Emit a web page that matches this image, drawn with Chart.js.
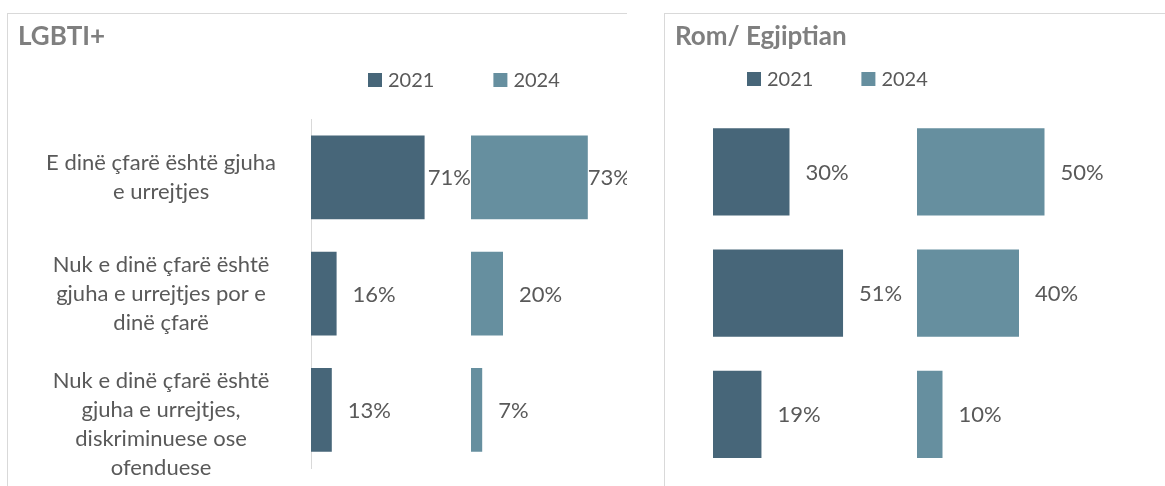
<!DOCTYPE html>
<html>
<head>
<meta charset="utf-8">
<script src="https://cdn.jsdelivr.net/npm/chart.js@4.4.0/dist/chart.umd.min.js"></script>
<style>
  body { margin: 0; background: #fff; width: 1165px; height: 486px; overflow: hidden; position: relative; }
  .panel { position: absolute; top: 13px; height: 473px; border-left: 1px solid #d9d9d9; border-top: 1px solid #d9d9d9; overflow: hidden; }
  #p1 { left: 7px; width: 619px; }
  #p2 { left: 664px; width: 501px; }
  .box { position: relative; height: 472px; }
  #p1 .box { width: 640px; }
  #p2 .box { width: 500px; }
</style>
</head>
<body>
<div class="panel" id="p1"><div class="box"><canvas id="chartLgbti"></canvas></div></div>
<div class="panel" id="p2"><div class="box"><canvas id="chartRom"></canvas></div></div>

<script>
// Data
const categories = [
    ['E dinë çfarë është gjuha', 'e urrejtjes'],
    ['Nuk e dinë çfarë është', 'gjuha e urrejtjes por e', 'dinë çfarë'],
    ['Nuk e dinë çfarë është', 'gjuha e urrejtjes,', 'diskriminuese ose', 'ofenduese']
];
const years = ['2021', '2024'];
const lgbti2021 = [71, 16, 13];
const lgbti2024 = [73, 20, 7];
const rom2021 = [30, 51, 19];
const rom2024 = [50, 40, 10];

const colors = ['#476679', '#668F9F'];
const textColor = '#595959';

Chart.defaults.font.family = 'Lato';

// Percent labels just past the end of each bar, kept inside its own column
const valueLabels = {
    id: 'valueLabels',
    afterDatasetsDraw(chart) {
        const ctx = chart.ctx;
        ctx.save();
        ctx.font = '22px Lato';
        ctx.fillStyle = textColor;
        ctx.textAlign = 'left';
        ctx.textBaseline = 'middle';
        chart.data.datasets.forEach((ds, i) => {
            const meta = chart.getDatasetMeta(i);
            const xScale = chart.scales[ds.xAxisID];
            meta.data.forEach((bar, j) => {
                const text = ds.data[j] + '%';
                const w = ctx.measureText(text).width;
                const x = Math.min(bar.x + 16, xScale.right - w);
                ctx.fillText(text, x, bar.y + 1);
            });
        });
        ctx.restore();
    }
};

// Small square legend like the original
const yearLegend = {
    id: 'yearLegend',
    afterDraw(chart, args, opts) {
        const ctx = chart.ctx;
        ctx.save();
        ctx.font = '20px Lato';
        ctx.textBaseline = 'middle';
        let x = opts.x;
        chart.data.datasets.forEach(ds => {
            ctx.fillStyle = ds.backgroundColor;
            ctx.fillRect(x, opts.y - 7, 14, 14);
            ctx.fillStyle = textColor;
            ctx.fillText(ds.label, x + 20, opts.y + 1);
            x += 20 + ctx.measureText(ds.label).width + opts.gap;
        });
        ctx.restore();
    }
};

function makePanel(id, title, v2021, v2024, cfg) {
    const ctx = document.getElementById(id).getContext('2d');
    return new Chart(ctx, {
        type: 'bar',
        data: {
            labels: categories,
            datasets: [
                { label: years[0], data: v2021, xAxisID: 'x2021', backgroundColor: colors[0] },
                { label: years[1], data: v2024, xAxisID: 'x2024', backgroundColor: colors[1] }
            ]
        },
        options: {
            indexAxis: 'y',
            responsive: true,
            maintainAspectRatio: false,
            animation: false,
            layout: { padding: { left: 10, right: cfg.padRight, top: 0, bottom: cfg.padBottom } },
            plugins: {
                legend: { display: false },
                tooltip: { enabled: false },
                title: {
                    display: true,
                    text: title,
                    align: 'start',
                    color: '#7F7F7F',
                    font: { size: 26, weight: 'bold', lineHeight: 1.2 },
                    padding: { top: 7, bottom: cfg.titleBottom }
                },
                yearLegend: cfg.legend
            },
            scales: {
                y: {
                    stacked: true,
                    grid: { display: false, drawTicks: false },
                    border: { display: cfg.showLabels, color: '#D9D9D9', width: 1 },
                    ticks: {
                        display: cfg.showLabels,
                        autoSkip: false,
                        crossAlign: 'center',
                        padding: 35,
                        color: textColor,
                        font: { size: 22, lineHeight: 1.32 },
                        // the long last label sits a little lower in the original
                        callback: (value, i) => i === categories.length - 1 ? [''].concat(categories[i]) : categories[i]
                    },
                    afterFit: (scale) => {
                        scale.width = cfg.axisWidth;
                        scale.paddingTop = 0;
                        scale.paddingBottom = 0;
                    }
                },
                x2021: { type: 'linear', position: 'bottom', stack: 'years', min: 0, max: cfg.xMax, display: false },
                x2024: { type: 'linear', position: 'bottom', stack: 'years', min: 0, max: cfg.xMax, display: false }
            }
        },
        plugins: [valueLabels, yearLegend]
    });
}

makePanel('chartLgbti', 'LGBTI+', lgbti2021, lgbti2024, {
    showLabels: true,
    axisWidth: 293,
    xMax: 100,
    padRight: 17,
    padBottom: 18,
    titleBottom: 67,
    legend: { x: 360, y: 66, gap: 59 }
});

makePanel('chartRom', 'Rom/ Egjiptian', rom2021, rom2024, {
    showLabels: false,
    axisWidth: 38,
    xMax: 80,
    padRight: 44,
    padBottom: 11,
    titleBottom: 59,
    legend: { x: 82, y: 65, gap: 48 }
});
</script>
</body>
</html>
